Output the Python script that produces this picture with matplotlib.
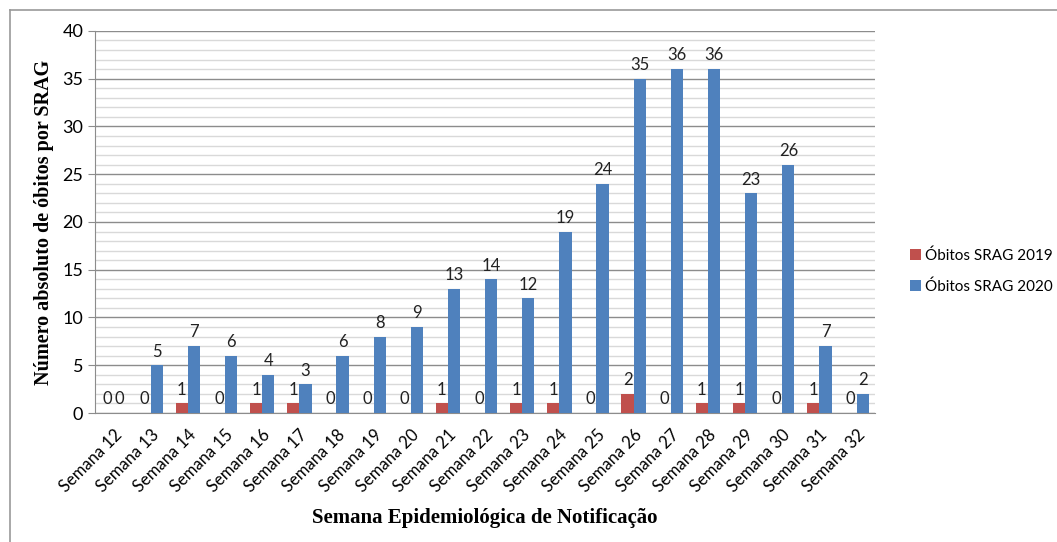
import numpy as np
import matplotlib.pyplot as plt
from matplotlib.lines import Line2D

# Data
semanas = ['Semana %d' % s for s in range(12, 33)]
obitos_2019 = [0, 0, 1, 0, 1, 1, 0, 0, 0, 1, 0, 1, 1, 0, 2, 0, 1, 1, 0, 1, 0]
obitos_2020 = [0, 5, 7, 6, 4, 3, 6, 8, 9, 13, 14, 12, 19, 24, 35, 36, 36, 23, 26, 7, 2]

red = '#C0504D'
blue = '#4F81BD'
tick_font = 'Lato'
label_font = 'Liberation Serif'

fig = plt.figure(figsize=(10.57, 5.42), dpi=100)
ax = fig.add_axes([0.0899, 0.238, 0.738, 0.705])

x = np.arange(len(semanas))
w = 0.33
ax.bar(x - w / 2, obitos_2019, w, color=red, label='Óbitos SRAG 2019', zorder=3)
ax.bar(x + w / 2, obitos_2020, w, color=blue, label='Óbitos SRAG 2020', zorder=3)

# value labels
for xi, v in zip(x, obitos_2019):
    ax.text(xi - w / 2, v + 0.6, str(v), ha='center', va='bottom',
            fontsize=12, family=tick_font, color='#222222')
for xi, v in zip(x, obitos_2020):
    ax.text(xi + w / 2, v + 0.6, str(v), ha='center', va='bottom',
            fontsize=12, family=tick_font, color='#222222')

ax.set_xlim(-0.5, len(semanas) - 0.5)
ax.set_ylim(0, 40)
ax.set_yticks(range(0, 41, 5))
ax.set_yticks(range(0, 41, 1), minor=True)
ax.grid(axis='y', which='minor', color='#d9d9d9', linewidth=1.0, zorder=0)
ax.grid(axis='y', which='major', color='#8c8c8c', linewidth=1.0, zorder=1)
ax.tick_params(axis='y', which='minor', length=0)
ax.tick_params(axis='y', which='major', length=5, color='#8c8c8c', labelsize=13)
ax.tick_params(axis='x', length=0, labelsize=12, pad=10)

ax.set_xticks(x)
ax.set_xticklabels(semanas, rotation=45, ha='right', rotation_mode='anchor')
for lab in ax.get_xticklabels() + ax.get_yticklabels():
    lab.set_family(tick_font)

for side in ['top', 'right']:
    ax.spines[side].set_visible(False)
ax.spines['left'].set_color('#8c8c8c')
ax.spines['bottom'].set_color('#8c8c8c')

ax.set_xlabel('Semana Epidemiológica de Notificação', fontsize=15,
              fontweight='bold', family=label_font, labelpad=9)
ax.set_ylabel('Número absoluto de óbitos por SRAG', fontsize=14.5,
              fontweight='bold', family=label_font, labelpad=6)

leg = fig.legend(loc='center left', bbox_to_anchor=(0.848, 0.5), frameon=False,
                 handlelength=0.7, handleheight=0.7, handletextpad=0.3,
                 labelspacing=1.1, prop={'family': tick_font, 'size': 11})

# outer chart frame (left and top edges visible)
fig.add_artist(Line2D([10 / 1057, 10 / 1057], [0, 1 - 10 / 542],
                      transform=fig.transFigure, color='#999999', lw=1.2))
fig.add_artist(Line2D([10 / 1057, 1], [1 - 10 / 542, 1 - 10 / 542],
                      transform=fig.transFigure, color='#999999', lw=1.2))

fig.savefig('out.png', dpi=100)
